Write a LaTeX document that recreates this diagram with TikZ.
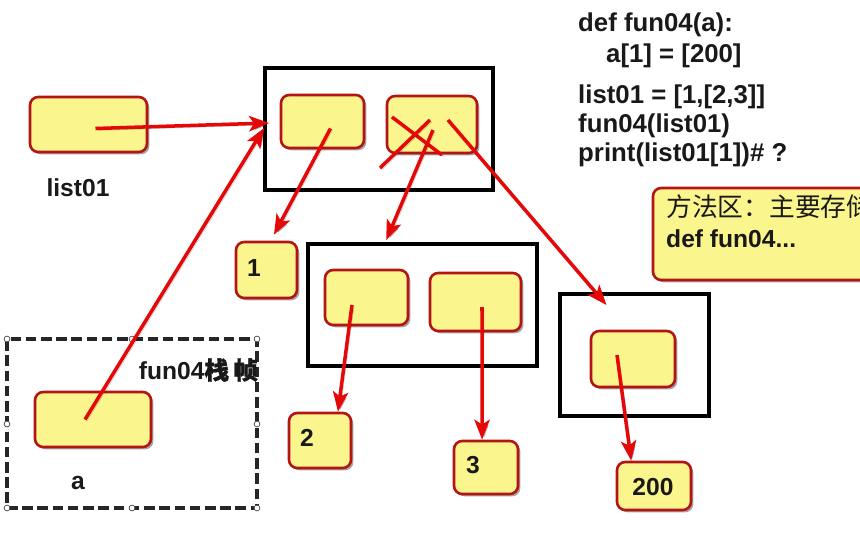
\documentclass[tikz,border=0pt]{standalone}
\usepackage{fontspec}
\setmainfont{Liberation Sans}
\newfontfamily\cjk{Noto Sans CJK SC}
\newfontfamily\cjkb{Noto Sans CJK SC}[FakeBold=1.2]
\usetikzlibrary{arrows.meta,shadows,fit,calc}
\definecolor{cellfill}{RGB}{250,245,140}
\definecolor{cellline}{RGB}{180,20,20}
\definecolor{arrred}{RGB}{228,8,8}
\definecolor{txt}{RGB}{25,25,25}
\begin{document}
\begin{tikzpicture}[x=0.03cm,y=-0.03cm,
  cell/.style={draw=cellline, fill=cellfill, line width=2.2pt, rounded corners=7pt, inner sep=0pt,
    drop shadow={shadow xshift=2pt,shadow yshift=-2pt,opacity=0.35,fill=black}},
  framebox/.style={draw=black, fill=white, line width=3.2pt, inner sep=0pt,
    drop shadow={shadow xshift=2pt,shadow yshift=-2pt,opacity=0.3,fill=black}},
  lbl/.style={font=\bfseries\fontsize{21pt}{25pt}\selectfont, text=txt, inner sep=0pt},
  code/.style={font=\bfseries\fontsize{22pt}{26pt}\selectfont, text=txt, anchor=mid west, inner sep=0pt},
  shad/.style={preaction={draw=black, opacity=0.22, transform canvas={shift={(1.6pt,-1.6pt)}}}},
  arr/.style={shad, draw=arrred, line width=3pt, -{Stealth[length=17pt,width=13pt,inset=4pt]}},
  xline/.style={shad, draw=arrred, line width=3pt},
  handle/.style={circle, draw=black!70, fill=white, line width=0.6pt, inner sep=0pt, minimum size=5pt}]
\useasboundingbox (0,0) rectangle (860,547);
\clip (0,0) rectangle (860,547);
\fill[white] (0,0) rectangle (860,547);

% list01
\node[cell, fit={(30,97)(147,152)}] (list) {};
\node[lbl] (listlbl) at (78,188) {list01};

% outer list
\node[framebox, fit={(265,68)(493,190)}] (box1) {};
\node[cell, fit={(281,95)(364,148)}] (c1) {};
\node[cell, fit={(387,96)(477,153)}] (c2) {};

% element 1
\node[cell, fit={(236,242)(297,298)}] (n1) {};
\node[lbl] (n1t) at (254,268) {1};

% inner list [2,3]
\node[framebox, fit={(308,244)(537,366)}] (box2) {};
\node[cell, fit={(325,270)(408,325)}] (c2a) {};
\node[cell, fit={(430,273)(521,331)}] (c2b) {};
\node[cell, fit={(289,413)(351,468)}] (n2) {};
\node[lbl] (n2t) at (307,438) {2};
\node[cell, fit={(454,441)(518,494)}] (n3) {};
\node[lbl] (n3t) at (473,465) {3};

% new list [200]
\node[framebox, fit={(560,294)(709,416)}] (box3) {};
\node[cell, fit={(591,331)(675,387)}] (c3) {};
\node[cell, fit={(617,462)(691,510)}] (n200) {};
\node[lbl] (n200t) at (653,487) {200};

% stack frame
\node[draw=black!85, line width=3.4pt, dash pattern=on 9pt off 4pt, inner sep=0pt, fit={(7,339)(257,508)}] (sf) {};
\foreach \p/\n in {(7,339)/h1,(132,339)/h2,(257,339)/h3,(7,424)/h4,(257,424)/h5,(7,508)/h6,(132,508)/h7,(257,508)/h8}
  \node[handle] (\n) at \p {};
\node[cell, fit={(35,392)(151,447)}] (a) {};
\node[lbl] (albl) at (78,483) {a};
\node[lbl, anchor=east] (sflbl) at (258,370) {fun04{\cjkb 栈\,帧}};

% method area
\node[cell, fit={(653,188)(900,280)}] (method) {};
\node[anchor=mid west, inner sep=0pt, text=txt, font=\fontsize{22pt}{26pt}\selectfont] (m1) at (666,213) {\cjk 方法区：主要存储};
\node[lbl, anchor=mid west] (m2) at (666,244) {def fun04...};

% code
\node[code] (k1) at (578,28) {def fun04(a):};
\node[code] (k2) at (606,59) {a[1] = [200]};
\node[code] (k3) at (578,100) {list01 = [1,[2,3]]};
\node[code] (k4) at (578,129) {fun04(list01)};
\node[code] (k5) at (578,158) {print(list01[1])\# ?};

% arrows
\draw[arr] ($(list.center)+(7,4)$) -- ($(box1.west)+(6,-6)$);
\draw[arr] ($(a.center)+(-8,0)$) -- ($(box1.west)+(1,-1)$);
\draw[arr] ($(c1.center)+(8,7)$) -- ($(n1.67)+(-5,-6)$);
\draw[xline] ($(c2.center)+(-40,-7.5)$) -- ($(c2.center)+(10,30.5)$);
\draw[xline] ($(c2.center)+(-2,-4.5)$) -- ($(c2.center)+(-52,43.5)$);
\draw[arr] ($(c2.center)+(1,5.5)$) -- ($(box2.120)+(0,-2)$);
\draw[arr] ($(c2.center)+(16,-4.5)$) -- ($(box3.center)+(-28,-50)$);
\draw[arr] ($(c2a.center)+(-14.5,7.5)$) -- (n2.58);
\draw[arr] ($(c2b.center)+(6.5,5)$) -- (n3.98);
\draw[arr] ($(c3.center)+(-16,-4)$) -- (n200.132);
\end{tikzpicture}
\end{document}
